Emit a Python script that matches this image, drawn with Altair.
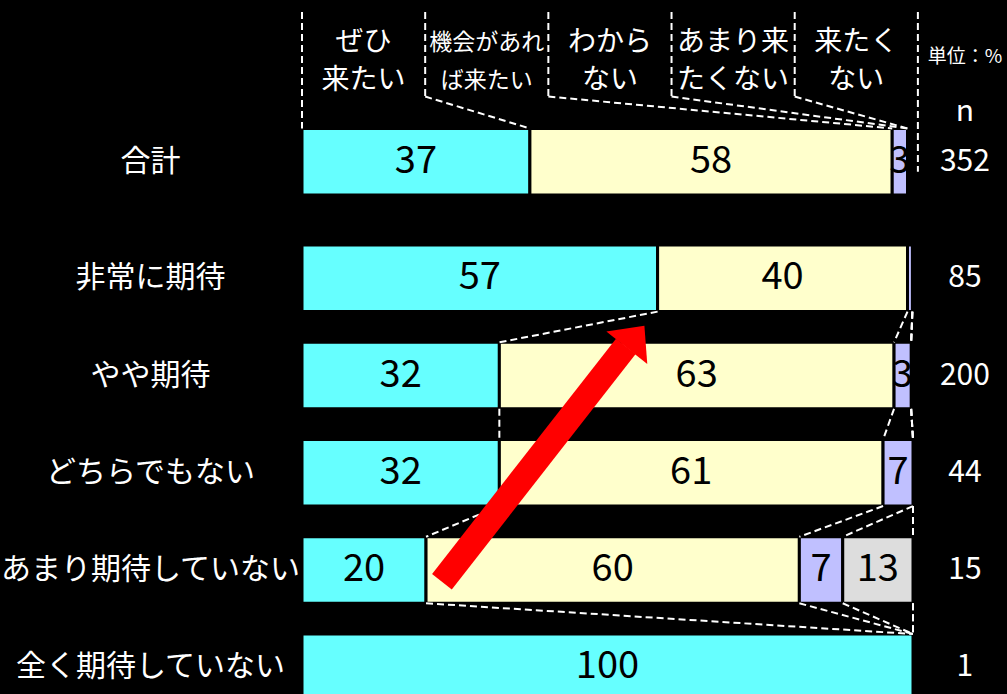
import altair as alt
import numpy as np
import pandas as pd

# ---------------- data ----------------
ROWS = ["合計", "非常に期待", "やや期待", "どちらでもない", "あまり期待していない", "全く期待していない"]
N_VALUES = ["352", "85", "200", "44", "15", "1"]

CATEGORIES = ["ぜひ来たい", "機会があれば来たい", "わからない", "あまり来たくない", "来たくない"]
HEADER_LABELS = ["ぜひ\n来たい", "機会があれ\nば来たい", "わから\nない", "あまり来\nたくない", "来たく\nない"]
COLORS = ["#66FFFF", "#FFFFCC", "#C0C0FF", "#DDDDDD", "#000000"]

# segment widths as drawn (%), one list per category, in ROWS order
SHARE_ZEHI = [37.3, 58.2, 32.3, 32.3, 20.3, 100.0]
SHARE_KIKAI = [59.3, 40.9, 64.6, 62.8, 61.1, 0.0]
SHARE_WAKARANAI = [2.5, 0.8, 2.8, 4.9, 7.1, 0.0]
SHARE_AMARI = [0.0, 0.0, 0.0, 0.0, 11.5, 0.0]
SHARE_KONAI = [0.0, 0.0, 0.0, 0.0, 0.0, 0.0]

# printed value labels
LABEL_ZEHI = ["37", "57", "32", "32", "20", "100"]
LABEL_KIKAI = ["58", "40", "63", "61", "60", ""]
LABEL_WAKARANAI = ["3", "", "3", "7", "7", ""]
LABEL_AMARI = ["", "", "", "", "13", ""]
LABEL_KONAI = ["", "", "", "", "", ""]

# red arrow annotation (x in %, y in row units)
ARROW_TAIL = (22.9, 4.32)
ARROW_BASE = (53.0, 1.90)
ARROW_HEAD = (54.6, 1.80)

# ---------------- layout ----------------
FONT = "Noto Sans CJK JP"
GAP_AFTER_TOTAL = 0.2
BAR_HALF = 0.342
HEADER_SPAN = 100.8
HEADER_TOP = -1.54
HEADER_BOTTOM = -0.67
HEADER_TEXT_Y = -1.216
UNIT_Y = -1.077
N_HEAD_Y = -0.51
ROW_LABEL_X = -24.8
N_X = 108.5

shares = np.array([SHARE_ZEHI, SHARE_KIKAI, SHARE_WAKARANAI, SHARE_AMARI, SHARE_KONAI])
labels = [LABEL_ZEHI, LABEL_KIKAI, LABEL_WAKARANAI, LABEL_AMARI, LABEL_KONAI]
pos = [i + (GAP_AFTER_TOTAL if i > 0 else 0.0) for i in range(len(ROWS))]
cum = np.vstack([np.zeros(len(ROWS)), np.cumsum(shares, axis=0)])  # boundaries

seg_rows = []
for i, row in enumerate(ROWS):
    for k, cat in enumerate(CATEGORIES):
        if shares[k][i] > 0:
            seg_rows.append(dict(row=row, cat=cat, x=cum[k][i], x2=cum[k + 1][i],
                                 mid=(cum[k][i] + cum[k + 1][i]) / 2,
                                 y=pos[i] - BAR_HALF, y2=pos[i] + BAR_HALF, yc=pos[i],
                                 label=labels[k][i]))
segs = pd.DataFrame(seg_rows)
seg_labels = segs[segs["label"] != ""]

# connectors between consecutive rows (not between total and first group)
con = []
for i in range(1, len(ROWS) - 1):
    for k in range(1, len(CATEGORIES) + 1):
        con.append(dict(x=cum[k][i], x2=cum[k][i + 1],
                        y=pos[i] + BAR_HALF, y2=pos[i + 1] - BAR_HALF))
# header to total bar
hb = [k * HEADER_SPAN / len(CATEGORIES) for k in range(len(CATEGORIES) + 1)]
for k in range(1, len(CATEGORIES)):
    con.append(dict(x=hb[k], x2=cum[k][0], y=HEADER_BOTTOM, y2=pos[0] - BAR_HALF))
# header verticals
for k in range(len(hb)):
    y2 = HEADER_BOTTOM
    if k == 0:
        y2 = pos[0] - BAR_HALF
    elif k == len(hb) - 1:
        y2 = pos[0] + BAR_HALF * 0.3
    con.append(dict(x=hb[k], x2=hb[k], y=HEADER_TOP, y2=y2))
cons = pd.DataFrame(con)

header = pd.DataFrame(dict(label=HEADER_LABELS,
                           x=[(hb[k] + hb[k + 1]) / 2 for k in range(len(CATEGORIES))],
                           y=[HEADER_TEXT_Y] * len(CATEGORIES)))
rowlab = pd.DataFrame(dict(row=ROWS, n=N_VALUES, y=pos))
arrow = pd.DataFrame([dict(x=ARROW_TAIL[0], y=ARROW_TAIL[1], x2=ARROW_BASE[0], y2=ARROW_BASE[1])])
head = pd.DataFrame([dict(x=ARROW_HEAD[0], y=ARROW_HEAD[1])])

XS = alt.Scale(domain=[0, 100], nice=False, zero=False)
YS = alt.Scale(domain=[-1.663, 5.475], nice=False, zero=False, reverse=True)


def X(f):
    return alt.X(f, type="quantitative", scale=XS, axis=None)


def Y(f):
    return alt.Y(f, type="quantitative", scale=YS, axis=None)


bars = alt.Chart(segs).mark_bar(stroke="black", strokeWidth=3).encode(
    x=X("x"), x2="x2", y=Y("y"), y2="y2",
    color=alt.Color("cat:N", scale=alt.Scale(domain=CATEGORIES, range=COLORS), legend=None),
)
bar_text = alt.Chart(seg_labels).mark_text(color="black", fontSize=38, font=FONT,
                                           baseline="middle", align="center").encode(
    x=X("mid"), y=Y("yc"), text="label:N")

lines = alt.Chart(cons).mark_rule(color="white", strokeWidth=2, strokeDash=[7, 4]).encode(
    x=X("x"), x2="x2", y=Y("y"), y2="y2")

head_text = alt.Chart(header).transform_calculate(
    fs="length(split(datum.label, '\\n')[0]) > 4 ? 23 : 28"
).mark_text(color="white", font=FONT, lineBreak="\n", lineHeight=37.5,
            baseline="middle", align="center").encode(
    x=X("x"), y=Y("y"), text="label:N", size=alt.Size("fs:Q", scale=None))

row_text = alt.Chart(rowlab).mark_text(color="white", font=FONT, fontSize=30,
                                       baseline="middle", align="center").encode(
    x=alt.XDatum(ROW_LABEL_X, type="quantitative", scale=XS, axis=None),
    y=Y("y"), text="row:N")

n_text = alt.Chart(rowlab).mark_text(color="white", font=FONT, fontSize=30,
                                     baseline="middle", align="center").encode(
    x=alt.XDatum(N_X, type="quantitative", scale=XS, axis=None),
    y=Y("y"), text="n:N")

n_head = alt.Chart(pd.DataFrame(dict(t=["n"], y=[N_HEAD_Y]))).mark_text(
    color="white", font=FONT, fontSize=30, baseline="middle", align="center").encode(
    x=alt.XDatum(N_X, type="quantitative", scale=XS, axis=None), y=Y("y"), text="t:N")

unit = alt.Chart(pd.DataFrame(dict(t=["単位：%"], y=[UNIT_Y]))).mark_text(
    color="white", font=FONT, fontSize=19, baseline="middle", align="center").encode(
    x=alt.XDatum(N_X, type="quantitative", scale=XS, axis=None), y=Y("y"), text="t:N")

shaft = alt.Chart(arrow).mark_rule(color="#FF0000", strokeWidth=25, strokeCap="butt").encode(
    x=X("x"), x2="x2", y=Y("y"), y2="y2")
arrow_head = alt.Chart(head).mark_point(
    shape="M0,-0.54L1,0.54L-1,0.54Z", size=2735, angle=38.5,
    filled=True, color="#FF0000", opacity=1, strokeWidth=0).encode(x=X("x"), y=Y("y"))

chart = alt.layer(bars, lines, bar_text, head_text, row_text, n_text, n_head, unit,
                  shaft, arrow_head).properties(
    width=611, height=694,
    padding={"left": 302, "right": 94, "top": 0, "bottom": 0},
    autosize=alt.AutoSizeParams(type="none"),
).configure(background="black").configure_view(strokeWidth=0)

chart.save("out.html", embed_options={"renderer": "svg", "actions": False})
